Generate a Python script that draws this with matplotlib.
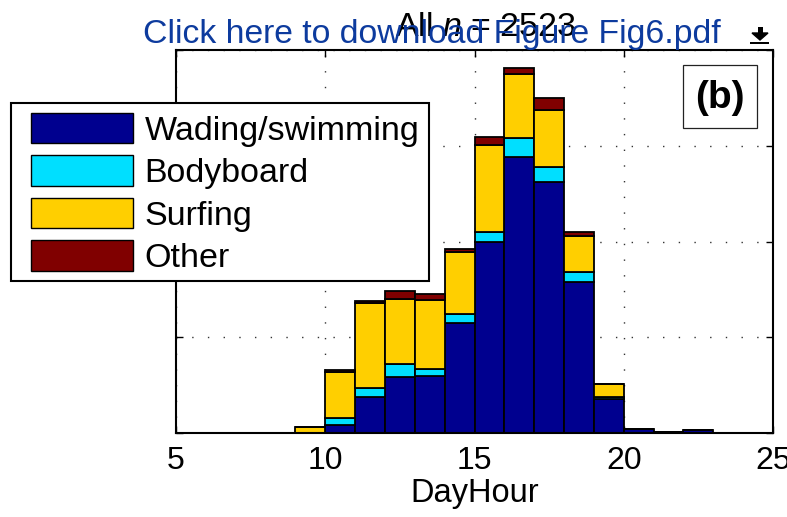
import numpy as np
import matplotlib
matplotlib.use("Agg")
import matplotlib.pyplot as plt
import matplotlib.patches as mpatches

plt.rcParams['font.family'] = ['Liberation Sans', 'DejaVu Sans']
plt.rcParams['mathtext.fontset'] = 'custom'
plt.rcParams['mathtext.rm'] = 'Liberation Sans'
plt.rcParams['mathtext.it'] = 'Liberation Sans:italic'

# hourly counts (left bin edge)
hours = [9, 10, 11, 12, 13, 14, 15, 16, 17, 18, 19, 20, 21, 22]
wading = [0, 8, 38, 59, 60, 115, 199, 288, 262, 158, 35, 4, 1, 3]
bodyboard = [0, 8, 9, 13, 7, 9, 11, 20, 16, 10, 3, 0, 0, 0]
surfing = [6, 48, 89, 68, 72, 65, 91, 67, 59, 38, 13, 0, 0, 0]
other = [0, 2, 2, 8, 6, 3, 8, 6, 13, 4, 0, 0, 0, 0]

series = [('Wading/swimming', wading, '#00008F'),
          ('Bodyboard', bodyboard, '#00DFFF'),
          ('Surfing', surfing, '#FFCF00'),
          ('Other', other, '#800000')]

W, H = 787, 517


def px(x, y):
    # pixel (from top-left) -> figure fraction
    return x / W, 1 - y / H


def box(x0, y0, x1, y1, **kw):
    # rectangle in figure pixels (top-left origin)
    a, b = px(x0, y1)
    c, d = px(x1, y0)
    fig.patches.append(mpatches.Rectangle((a, b), c - a, d - b,
                                          transform=fig.transFigure, **kw))


fig = plt.figure(figsize=(W / 100, H / 100), dpi=100)
ax = fig.add_axes([176 / W, 84 / H, (773 - 176) / W, 383 / H])

bottom = np.zeros(len(hours))
handles = []
for name, vals, col in series:
    vals = np.array(vals, dtype=float)
    b = ax.bar(hours, vals, width=1, bottom=bottom, align='edge',
               color=col, edgecolor='black', linewidth=1.3, label=name, zorder=2)
    handles.append(b)
    bottom += vals

ax.set_xlim(5, 25)
ax.set_ylim(0, 400)
ax.set_xticks([5, 10, 15, 20, 25])
ax.set_yticks([0, 100, 200, 300, 400])
ax.set_yticklabels([])
ax.tick_params(direction='in', top=True, right=True, length=5, width=1,
               labelsize=23, pad=9.5)
ax.set_axisbelow(True)
ax.grid(True, color='#333333', linestyle=(0, (1, 10.3)), linewidth=1)
for s in ax.spines.values():
    s.set_linewidth(1.5)

ax.set_xlabel('DayHour', fontsize=23.5, labelpad=1)
ax.set_title(r'All $n$ = 2523', fontsize=24.5, pad=10, x=0.519)

# panel label box
box(683, 65, 757, 128, facecolor='white', edgecolor='#222222',
    linewidth=0.9, zorder=5)
cx, cy = px(720, 98)
fig.text(cx, cy, '(b)', fontsize=28, fontweight='bold',
         ha='center', va='center', zorder=6)

# legend with its frame drawn separately
box(11, 102.7, 429, 280.7, facecolor='white', edgecolor='black',
    linewidth=1.5, zorder=4)
leg = fig.legend(handles=handles, loc='upper left', bbox_to_anchor=px(21, 102.7),
                 fontsize=24.5, frameon=False, handlelength=3.0, handleheight=1.0,
                 handletextpad=0.33, labelspacing=0.25, borderpad=0.3,
                 borderaxespad=0)
leg.set_zorder(5)
for p in leg.get_patches():
    p.set_linewidth(1)

# pdf overlay link text
fig.text(*px(143, 43), 'Click here to download Figure Fig6.pdf', fontsize=24.3,
         color='#0D3B9E', ha='left', va='baseline', zorder=10)

# download icon
tri = [px(752, 33), px(768, 33), px(760, 40)]
fig.patches.append(mpatches.Polygon(tri, closed=True, transform=fig.transFigure,
                                    facecolor='black', edgecolor='black', zorder=10))
box(757.5, 27, 762.5, 34, facecolor='black', zorder=10)
box(750, 42, 769, 44, facecolor='black', zorder=10)

fig.savefig('out.png', dpi=100)
